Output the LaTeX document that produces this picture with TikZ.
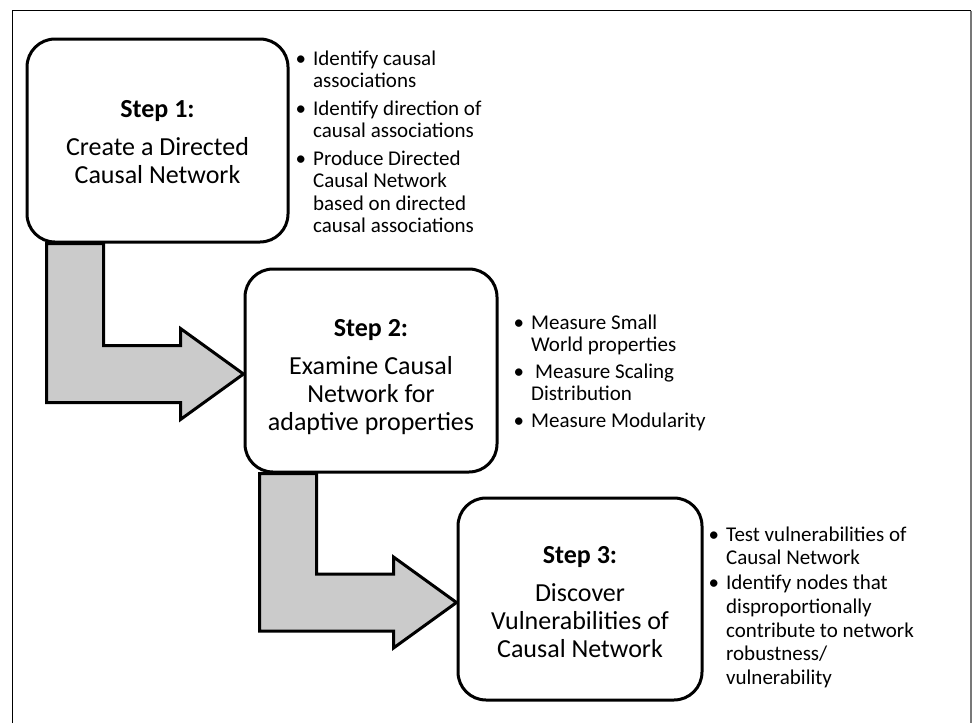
\documentclass[tikz,border=0pt]{standalone}
\usepackage{fontspec}
\setmainfont{Carlito}
\usetikzlibrary{positioning,calc,backgrounds}

\definecolor{arrowgray}{RGB}{203,203,203}
\definecolor{framegray}{RGB}{120,120,120}

\tikzset{
  stepbox/.style={draw, line width=3pt, rounded corners=28pt, fill=white,
    align=center, inner sep=0pt, font=\fontsize{26}{28}\selectfont},
  notes/.style={inner sep=0pt, font=\fontsize{21}{22.5}\selectfont},
  flowarrow/.style={draw, line width=3pt, fill=arrowgray, line join=miter},
}
\newcommand{\topstrut}{\rule{0pt}{24pt}}

% L-shaped block arrow from the bottom of #1 into the left side of #2
\newcommand{\stepflow}[2]{%
  \draw[flowarrow] let \p1=($(#2.west)+(0,3.5)$), \p2=(#1.south) in
    (\x1-197,\y2) -- (\x1-197,\y1-28.5) -- (\x1-63,\y1-28.5)
    -- (\x1-63,\y1-45.5) -- (\x1,\y1) -- (\x1-63,\y1+45.5)
    -- (\x1-63,\y1+28.5) -- (\x1-140,\y1+28.5) -- (\x1-140,\y2) -- cycle;}

\begin{document}
\begin{tikzpicture}[x=1pt,y=-1pt]
  \useasboundingbox (0,0) rectangle (972,723);

  % Frame
  \draw[line width=1.5pt] (12.5,723) -- (12.5,10.5) -- (971,10.5);
  \draw[line width=1.5pt, framegray] (971,10.5) -- (971,723);

  % Nodes
  \node[stepbox, minimum width=261pt, minimum height=203pt] (step1) at (157.5,140.5)
    {\rule{0pt}{21pt}\textbf{Step 1:}\\[10pt] Create a Directed\\ Causal Network};
  \node[stepbox, minimum width=252pt, minimum height=203pt] (step2) at (371,370.5)
    {\rule{0pt}{30pt}\textbf{Step 2:}\\[10pt] Examine Causal\\ Network for\\ adaptive properties};
  \node[stepbox, minimum width=244pt, minimum height=202pt] (step3) at (580,599)
    {\topstrut\textbf{Step 3:}\\[10pt] Discover\\ Vulnerabilities of\\ Causal Network};

  \node[notes, below right=12pt and 6pt of step1.north east] (notes1)
    {\begin{tabular}{@{}l@{\hspace{7pt}}l@{}}
      \textbullet & Identify causal\\ & associations\\[5pt]
      \textbullet & Identify direction of\\ & causal associations\\[5pt]
      \textbullet & Produce Directed\\ & Causal Network\\ & based on directed\\ & causal associations
    \end{tabular}};
  \node[notes, below right=46pt and 15pt of step2.north east] (notes2)
    {\begin{tabular}{@{}l@{\hspace{7pt}}l@{}}
      \textbullet & Measure Small\\ & World properties\\[4pt]
      \textbullet & \hspace{4pt}Measure Scaling\\ & Distribution\\[4pt]
      \textbullet & Measure Modularity
    \end{tabular}};
  \node[notes, font=\fontsize{21}{23.7}\selectfont,
        below right=28pt and 5pt of step3.north east] (notes3)
    {\begin{tabular}{@{}l@{\hspace{7pt}}l@{}}
      \textbullet & Test vulnerabilities of\\ & Causal Network\\[1pt]
      \textbullet & Identify nodes that\\ & disproportionally\\ & contribute to network\\ & robustness/\\ & vulnerability
    \end{tabular}};

  % Edges
  \begin{scope}[on background layer]
    \stepflow{step1}{step2}
    \stepflow{step2}{step3}
  \end{scope}
\end{tikzpicture}
\end{document}
